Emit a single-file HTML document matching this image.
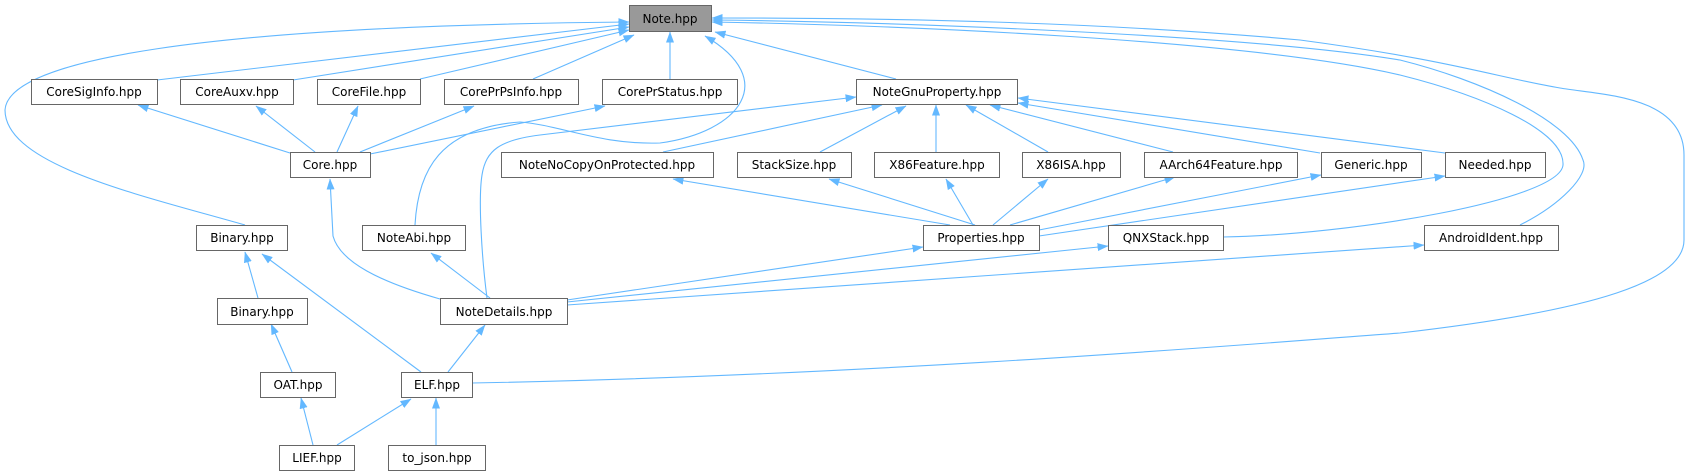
<!DOCTYPE html>
<html><head><meta charset="utf-8"><style>
html,body{margin:0;padding:0;background:#fff;width:1690px;height:476px;overflow:hidden}
svg{display:block}
text{font-family:"DejaVu Sans","Liberation Sans",sans-serif;font-size:12px;fill:#000;text-anchor:middle}
.n{fill:#fff;stroke:#666;stroke-width:1}
.e{fill:none;stroke:#63b8ff;stroke-width:1.1}
</style></head><body>
<svg width="1690" height="476" viewBox="0 0 1690 476" xmlns="http://www.w3.org/2000/svg">
<defs><marker id="a" markerWidth="11" markerHeight="8" refX="10.5" refY="4" orient="auto" markerUnits="userSpaceOnUse"><polygon points="0,0 11,4 0,8" fill="#63b8ff"/></marker></defs>
<g class="e" marker-end="url(#a)">
<path d="M157,80 L629,24"/>
<path d="M293,80 L629,27"/>
<path d="M420,79 L629,30"/>
<path d="M533,79 L634,35"/>
<path d="M670,79 L670,32"/>
<path d="M245,225 C140,195 5,165 5,110 C8,60 200,26 629,22"/>
<path d="M415,225 C418,170 440,128 520,122 C560,125 600,145 660,143 C740,132 780,80 705,36"/>
<path d="M896,79 L715,32"/>
<path d="M472,383 C900,375 1300,340 1400,333 C1600,310 1684,280 1684,240 L1684,155 C1684,95 1600,95 1560,88 C1500,78 1450,60 1300,40 C1100,22 900,18 712,18"/>
<path d="M1223,237 C1350,235 1560,200 1563,165 C1565,130 1480,95 1400,75 C1250,40 900,25 712,22"/>
<path d="M1520,225 C1560,205 1590,175 1583,160 C1570,120 1480,80 1400,60 C1250,35 900,22 712,20"/>
<path d="M290,153 L138,105"/>
<path d="M315,152 L256,106"/>
<path d="M337,152 L358,106"/>
<path d="M360,152 L474,106"/>
<path d="M370,154 L605,106"/>
<path d="M487,298 C482,260 478,200 482,175 C486,150 500,140 540,135 L856,97"/>
<path d="M663,152 L882,105"/>
<path d="M820,152 L906,106"/>
<path d="M936,152 L936,105"/>
<path d="M1048,152 L966,105"/>
<path d="M1173,152 L990,105"/>
<path d="M1320,153 L1018,103"/>
<path d="M1445,153 L1018,98"/>
<path d="M950,225 L673,179"/>
<path d="M975,225 L829,179"/>
<path d="M973,225 L946,179"/>
<path d="M993,225 L1048,179"/>
<path d="M1010,225 L1175,177"/>
<path d="M1039,230 L1321,175"/>
<path d="M1039,236 L1445,176"/>
<path d="M567,300 L923,247"/>
<path d="M567,302 L1108,246"/>
<path d="M567,305 L1424,245"/>
<path d="M490,298 L431,253"/>
<path d="M440,299 C380,282 340,262 333,236 L330,179"/>
<path d="M258,298 L245,252"/>
<path d="M421,372 L262,254"/>
<path d="M292,372 L271,324"/>
<path d="M448,372 L485,325"/>
<path d="M313,445 L301,398"/>
<path d="M337,445 L411,399"/>
<path d="M436,445 L436,398"/>
</g>
<rect x="629.5" y="5.5" width="82" height="26" fill="#999" stroke="#666"/><text x="670" y="23">Note.hpp</text>
<rect class="n" x="31.5" y="79.5" width="126" height="25"/><text x="94" y="96">CoreSigInfo.hpp</text>
<rect class="n" x="180.5" y="79.5" width="113" height="25"/><text x="237" y="96">CoreAuxv.hpp</text>
<rect class="n" x="317.5" y="79.5" width="103" height="25"/><text x="369" y="96">CoreFile.hpp</text>
<rect class="n" x="444.5" y="79.5" width="134" height="25"/><text x="511" y="96">CorePrPsInfo.hpp</text>
<rect class="n" x="602.5" y="79.5" width="135" height="25"/><text x="670" y="96">CorePrStatus.hpp</text>
<rect class="n" x="856.5" y="79.5" width="161" height="25"/><text x="937" y="96">NoteGnuProperty.hpp</text>
<rect class="n" x="290.5" y="152.5" width="80" height="25"/><text x="330" y="169">Core.hpp</text>
<rect class="n" x="501.5" y="152.5" width="212" height="25"/><text x="607" y="169">NoteNoCopyOnProtected.hpp</text>
<rect class="n" x="737.5" y="152.5" width="114" height="25"/><text x="794" y="169">StackSize.hpp</text>
<rect class="n" x="874.5" y="152.5" width="125" height="25"/><text x="937" y="169">X86Feature.hpp</text>
<rect class="n" x="1022.5" y="152.5" width="98" height="25"/><text x="1071" y="169">X86ISA.hpp</text>
<rect class="n" x="1144.5" y="152.5" width="153" height="25"/><text x="1221" y="169">AArch64Feature.hpp</text>
<rect class="n" x="1321.5" y="152.5" width="100" height="25"/><text x="1371" y="169">Generic.hpp</text>
<rect class="n" x="1445.5" y="152.5" width="100" height="25"/><text x="1495" y="169">Needed.hpp</text>
<rect class="n" x="196.5" y="225.5" width="91" height="25"/><text x="242" y="242">Binary.hpp</text>
<rect class="n" x="362.5" y="225.5" width="103" height="25"/><text x="414" y="242">NoteAbi.hpp</text>
<rect class="n" x="923.5" y="225.5" width="116" height="25"/><text x="981" y="242">Properties.hpp</text>
<rect class="n" x="1108.5" y="225.5" width="115" height="25"/><text x="1166" y="242">QNXStack.hpp</text>
<rect class="n" x="1424.5" y="225.5" width="134" height="25"/><text x="1491" y="242">AndroidIdent.hpp</text>
<rect class="n" x="217.5" y="298.5" width="90" height="26"/><text x="262" y="316">Binary.hpp</text>
<rect class="n" x="440.5" y="298.5" width="127" height="26"/><text x="504" y="316">NoteDetails.hpp</text>
<rect class="n" x="260.5" y="372.5" width="75" height="25"/><text x="298" y="389">OAT.hpp</text>
<rect class="n" x="401.5" y="372.5" width="71" height="25"/><text x="437" y="389">ELF.hpp</text>
<rect class="n" x="279.5" y="445.5" width="75" height="25"/><text x="317" y="462">LIEF.hpp</text>
<rect class="n" x="388.5" y="445.5" width="97" height="25"/><text x="437" y="462">to_json.hpp</text>
</svg>
</body></html>
